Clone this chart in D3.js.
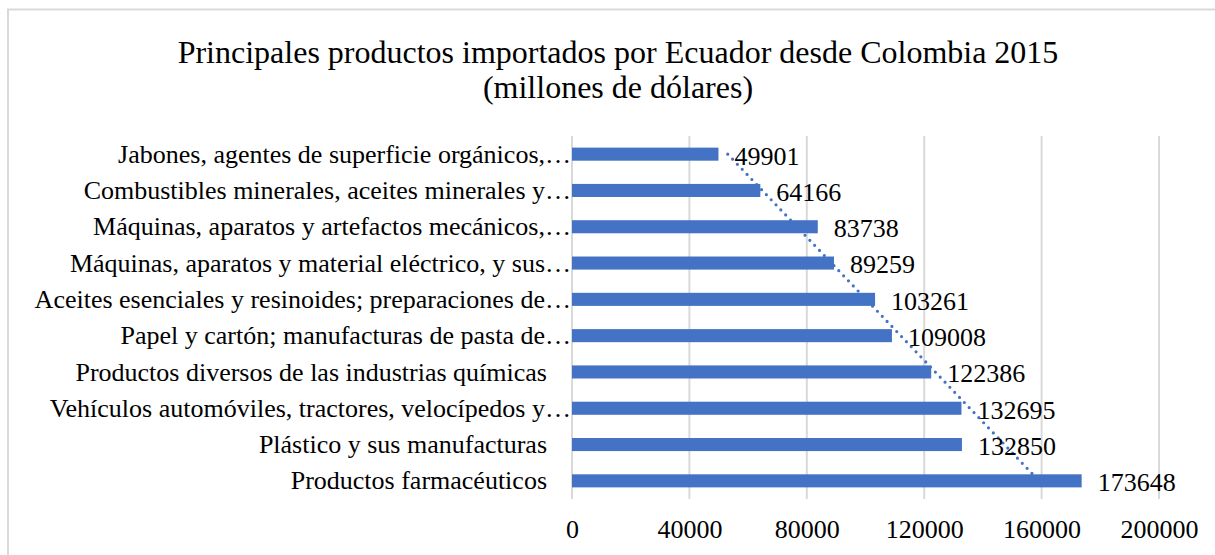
<!DOCTYPE html>
<html>
<head>
<meta charset="utf-8">
<script src="https://cdn.jsdelivr.net/npm/d3@7"></script>
<style>
  body { margin: 0; background: #fff; }
  text { font-family: "Liberation Serif", "Times New Roman", serif; fill: #000; }
</style>
</head>
<body>
<div id="chart"></div>
<script>
// Chart data, top to bottom as drawn
var categories = [
  "Jabones, agentes de superficie orgánicos,…",
  "Combustibles minerales, aceites minerales y…",
  "Máquinas, aparatos y artefactos mecánicos,…",
  "Máquinas, aparatos y material eléctrico, y sus…",
  "Aceites esenciales y resinoides; preparaciones de…",
  "Papel y cartón; manufacturas de pasta de…",
  "Productos diversos de las industrias químicas",
  "Vehículos automóviles, tractores, velocípedos y…",
  "Plástico y sus manufacturas",
  "Productos farmacéuticos"
];
var values = [49901, 64166, 83738, 89259, 103261, 109008, 122386, 132695, 132850, 173648];
var xTicks = [0, 40000, 80000, 120000, 160000, 200000];
var titleLines = ["Principales productos importados por Ecuador desde Colombia 2015", "(millones de dólares)"];

var width = 1215, height = 555;
var blue = "#4472C4";

var svg = d3.select("#chart")
  .append("svg")
    .attr("width", width)
    .attr("height", height);

// chart frame (runs off right and bottom)
svg.append("rect")
  .attr("x", 8).attr("y", 9.5)
  .attr("width", 1215).attr("height", 600)
  .style("fill", "none")
  .style("stroke", "#d9d9d9")
  .style("stroke-width", 2);

// title
svg.selectAll(".title")
  .data(titleLines)
  .enter()
  .append("text")
    .attr("class", "title")
    .attr("x", 618)
    .attr("y", function(d, i) { return 63 + i * 35; })
    .attr("text-anchor", "middle")
    .style("font-size", "32px")
    .text(function(d) { return d; });

var x = d3.scaleLinear().domain([0, 200000]).range([572, 1159]);
var y = d3.scaleBand().domain(categories).range([136, 499]).paddingInner(0.64).paddingOuter(0.32);

// gridlines
svg.append("g")
  .selectAll("line")
  .data(xTicks)
  .enter()
  .append("line")
    .attr("x1", function(d) { return x(d); })
    .attr("x2", function(d) { return x(d); })
    .attr("y1", 136).attr("y2", 499)
    .style("stroke", "#d9d9d9")
    .style("stroke-width", 2);

// x axis labels
var xAxis = d3.axisBottom(x).tickValues(xTicks).tickSize(0).tickPadding(0).tickFormat(d3.format("d"));
var gx = svg.append("g").attr("transform", "translate(0,520)").call(xAxis);
gx.select(".domain").remove();
gx.selectAll("text").style("font-size", "26px").attr("dy", "0.71em");

// y axis labels; untruncated ones keep a trailing gap like the original
var yAxis = d3.axisLeft(y).tickSize(0).tickPadding(1);
var gy = svg.append("g").attr("transform", "translate(572,0)").call(yAxis);
gy.select(".domain").remove();
gy.selectAll("text")
  .style("font-size", "26px")
  .attr("dy", "0.33em")
  .attr("dx", function(d) { return d.slice(-1) === "…" ? 0 : -24; });

// bars
svg.append("g")
  .selectAll("rect")
  .data(values)
  .enter()
  .append("rect")
    .attr("x", x(0))
    .attr("y", function(d, i) { return y(categories[i]); })
    .attr("width", function(d) { return x(d) - x(0); })
    .attr("height", y.bandwidth())
    .style("fill", blue);

// linear trendline (least squares over category order, bottom = 1)
var n = values.length;
var pts = values.map(function(v, i) { return [n - i, v]; });
var mx = d3.mean(pts, function(p) { return p[0]; }),
    my = d3.mean(pts, function(p) { return p[1]; });
var slope = d3.sum(pts, function(p) { return (p[0] - mx) * (p[1] - my); }) /
            d3.sum(pts, function(p) { return (p[0] - mx) * (p[0] - mx); });
var intercept = my - slope * mx;
var trend = [categories[0], categories[n - 1]].map(function(c) {
  var idx = n - categories.indexOf(c);
  return [x(intercept + slope * idx), y(c) + y.bandwidth() / 2];
});
svg.append("path")
  .attr("d", d3.line()(trend))
  .style("fill", "none")
  .style("stroke", blue)
  .style("stroke-width", 3.2)
  .style("stroke-linecap", "round")
  .style("stroke-dasharray", "0 7");

// value labels
svg.append("g")
  .selectAll("text")
  .data(values)
  .enter()
  .append("text")
    .attr("x", function(d) { return x(d) + 16; })
    .attr("y", function(d, i) { return y(categories[i]) + y.bandwidth() / 2; })
    .attr("dy", "0.4em")
    .style("font-size", "26px")
    .text(function(d) { return d; });
</script>
</body>
</html>
